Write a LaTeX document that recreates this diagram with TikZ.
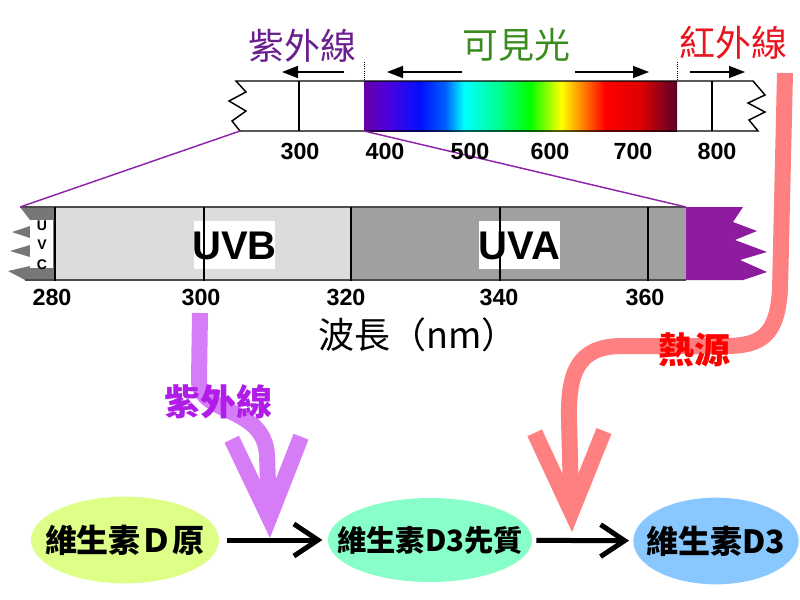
\documentclass[tikz,border=0pt]{standalone}
\usepackage{fontspec}
\setmainfont{Liberation Sans}
\newfontfamily\cjk{Noto Sans CJK TC}
\usetikzlibrary{arrows.meta, shapes.geometric, positioning}
\definecolor{uvdark}{HTML}{6B1F8E}
\definecolor{visgreen}{HTML}{3A8C1E}
\definecolor{irred}{HTML}{E8141E}
\definecolor{zoompurple}{HTML}{8E24AA}
\definecolor{barpurple}{HTML}{8E1C9E}
\definecolor{uvbgray}{HTML}{DCDCDC}
\definecolor{uvagray}{HTML}{A0A0A0}
\definecolor{uvcgray}{HTML}{777777}
\definecolor{uvray}{HTML}{D77CF7}
\definecolor{uvtext}{HTML}{B01DE8}
\definecolor{heatray}{HTML}{FF8080}
\definecolor{heattext}{HTML}{FF0000}
\definecolor{provit}{HTML}{DDFF88}
\definecolor{previt}{HTML}{88FFC8}
\definecolor{vitd}{HTML}{88C8FF}
% spectrum colours
\definecolor{spA}{HTML}{6600A8}
\definecolor{spB}{HTML}{4A00E0}
\definecolor{spC}{HTML}{0010FF}
\definecolor{spD}{HTML}{0060FF}
\definecolor{spE}{HTML}{00FFFF}
\definecolor{spF}{HTML}{00FF90}
\definecolor{spG}{HTML}{00FF00}
\definecolor{spH}{HTML}{FFFF00}
\definecolor{spI}{HTML}{FF8000}
\definecolor{spJ}{HTML}{FF0000}
\definecolor{spK}{HTML}{E00000}
\definecolor{spL}{HTML}{5A0028}
\pgfdeclarehorizontalshading{spectrum}{100bp}{color(0bp)=(spA); color(25bp)=(spA);
  color(29bp)=(spB); color(34bp)=(spC); color(38bp)=(spD); color(41bp)=(spE);
  color(46.5bp)=(spF); color(51.5bp)=(spG); color(56.5bp)=(spH); color(60bp)=(spI);
  color(63.5bp)=(spJ); color(69bp)=(spK); color(75bp)=(spL); color(100bp)=(spL)}

\begin{document}
\begin{tikzpicture}[x=0.75pt, y=-0.75pt,
    num/.style={font=\bfseries\fontsize{17.5}{18}\selectfont},
    toplabel/.style={font=\cjk\fontsize{27}{28}\selectfont},
    bandbox/.style={fill=white, inner sep=0pt, minimum width=61pt, minimum height=36pt},
    bandtext/.style={font=\bfseries\fontsize{30}{30}\selectfont},
    spanarrow/.style={-{Triangle[length=12pt, width=9pt]}, line width=1.1pt},
    zoomline/.style={draw=zoompurple, line width=1.1pt},
    vitamin/.style={ellipse, inner sep=0pt},
    vitext/.style={font=\cjk\bfseries\fontsize{24}{26}\selectfont},
    flow/.style={-{Straight Barb[length=18pt, width=24pt]}, line width=3.75pt},
    ray/.style={line width=12pt, -{Straight Barb[length=60pt, width=52pt]}},
    raylabel/.style={font=\cjk\bfseries\fontsize{27}{28}\selectfont}
]
    \useasboundingbox (0,0) rectangle (800,600);

    % top spectrum bar
    \shade[shading=spectrum] (364,81) rectangle (677,131);
    \draw[line width=1.1pt] (236,81) -- (753,81) -- (765,95) -- (748,103) -- (765,112) -- (749,120) -- (758,131)
        -- (240,131) -- (232,121) -- (246,111) -- (229,101) -- (246,92) -- cycle;
    \foreach \x in {299,712}
        \draw[line width=1.1pt] (\x,81) -- (\x,131);
    \foreach \x in {364,677}
        \draw[densely dotted, line width=0.6pt] (\x,62) -- (\x,81);

    \node[toplabel, text=uvdark] (uvtop) at (302,46) {紫外線};
    \node[toplabel, text=visgreen] (vis) at (516,45) {可見光};
    \node[toplabel, text=irred] (irtop) at (733,43) {紅外線};
    \draw[spanarrow] (344,72) -- (282,72);
    \draw[spanarrow] (462,72) -- (387,72);
    \draw[spanarrow] (575,72) -- (649,72);
    \draw[spanarrow] (690,72) -- (745,72);

    % lower UV bar
    \fill[uvbgray] (55,207) rectangle (351,280);
    \fill[uvagray] (351,207) rectangle (686,280);
    \fill[uvcgray] (20,207) -- (55,207) -- (55,280) -- (25,280) -- (8,271) -- (30,266) -- (30,257) -- (10,251)
        -- (30,245) -- (30,238) -- (12,232) -- (30,226) -- (30,220) -- cycle;
    \fill[white] (30,220) rectangle (53,268);
    \fill[barpurple] (686,207) -- (743,207) -- (733,222) -- (757,231) -- (735,240) -- (767,252) -- (740,260)
        -- (767,272) -- (743,280) -- (686,280) -- cycle;
    \draw[gray!60!black, line width=0.9pt] (20,207) -- (686,207) (25,280) -- (686,280);
    \node[bandbox] (uvbbox) at (234.5,245) {};
    \node[bandbox] (uvabox) at (519.5,245) {};
    \foreach \x in {55,204,351,500,648}
        \draw[line width=1.1pt] (\x,207) -- (\x,281);
    \node[bandtext] (uvb) at (234.5,246) {UVB};
    \node[bandtext] (uva) at (519.5,246) {UVA};
    \foreach \l [count=\i] in {U,V,C}
        \node[font=\bfseries\fontsize{10.5}{11}\selectfont] (uvc\i) at (42,206+19.5*\i) {\l};

    % zoom lines
    \draw[zoomline] (240,131) -- (20,207);
    \draw[zoomline] (364,131) -- (686,207);

    \foreach \n/\x in {300/300,400/385,500/470,600/550,700/633,800/717}
        \node[num] (t\n) at (\x,151) {\n};
    \foreach \n/\x in {280/52,300/201,320/346,340/499,360/645}
        \node[num] (b\n) at (\x,297) {\n};
    \node[font=\cjk\fontsize{27}{28}\selectfont] (wavelen) at (418,335) {波長（nm）};

    % vitamin D chain
    \node[vitamin, fill=provit, minimum width=141pt, minimum height=65pt] (prov) at (125,540) {};
    \node[vitamin, fill=previt, minimum width=153pt, minimum height=63pt] (pre) at (430,540) {};
    \node[vitamin, fill=vitd, minimum width=124pt, minimum height=65pt] (vd) at (716,541) {};
    \node[vitext] (provtext) at (prov) {維生素Ｄ原};
    \node[vitext, font=\cjk\bfseries\fontsize{22}{24}\selectfont] (pretext) at (pre) {維生素D3先質};
    \node[vitext] (vdtext) at (vd) {維生素D3};
    \draw[flow, shorten <=6pt, shorten >=4pt] (prov) -- (pre);
    \draw[flow, shorten <=3pt, shorten >=3pt] (pre) -- (vd);

    % UV and heat rays
    \coordinate (uvsrc) at (200,313);
    \coordinate (uvtip) at (270,538);
    \draw[ray, draw=uvray] (uvsrc) -- (199,380) .. controls (198,415) and (264,405) .. (267,455) -- (uvtip);
    \node[raylabel, text=uvtext] (uvlabel) at (218,402) {紫外線};

    \coordinate (heatsrc) at (785,73);
    \coordinate (heattip) at (572,532);
    \draw[ray, draw=heatray] (heatsrc) -- (780,290) .. controls (777,335) and (762,346) .. (725,346)
        -- (620,346) .. controls (578,347) and (568,372) .. (569,420) -- (heattip);
    \node[raylabel, text=heattext] (heatlabel) at (694,350) {熱源};
\end{tikzpicture}
\end{document}
